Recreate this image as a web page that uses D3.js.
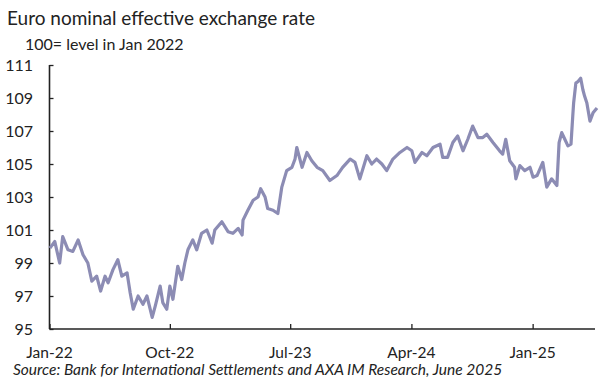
<!DOCTYPE html>
<html>
<head>
<meta charset="utf-8">
<script src="https://cdn.jsdelivr.net/npm/d3@7"></script>
<style>
  body { margin: 0; background: #fff; }
  svg { display: block; font-family: Lato, "Open Sans", sans-serif; }
</style>
</head>
<body>
<svg width="615" height="379"></svg>
<script>
var width = 615, height = 379;
var margin = {left: 49.5, right: 18, top: 65, bottom: 50};

// dates of the series
var dates = [
  '2022-01-02','2022-01-13','2022-01-24','2022-01-31','2022-02-12','2022-02-23','2022-03-07','2022-03-18','2022-03-29',
  '2022-04-07','2022-04-18','2022-04-27','2022-05-07','2022-05-14','2022-05-25','2022-06-05','2022-06-14','2022-06-26',
  '2022-07-03','2022-07-10','2022-07-21','2022-08-01','2022-08-10','2022-08-22','2022-08-29','2022-09-09','2022-09-15',
  '2022-09-24','2022-10-01','2022-10-08','2022-10-19','2022-10-28','2022-11-04','2022-11-11','2022-11-22','2022-12-01',
  '2022-12-12','2022-12-24','2023-01-05','2023-01-11','2023-01-27','2023-02-10','2023-02-21','2023-03-05','2023-03-14',
  '2023-03-16','2023-03-27','2023-04-08','2023-04-19','2023-04-25','2023-05-05','2023-05-11','2023-05-23','2023-06-03',
  '2023-06-12','2023-06-23','2023-07-05','2023-07-12','2023-07-16','2023-07-28','2023-08-08','2023-08-19','2023-08-31',
  '2023-09-13','2023-09-29','2023-10-15','2023-10-28','2023-11-14','2023-11-25','2023-12-06','2023-12-22','2024-01-02',
  '2024-01-13','2024-01-25','2024-02-05','2024-02-19','2024-03-06','2024-03-22','2024-04-02','2024-04-09','2024-04-25',
  '2024-05-06','2024-05-20','2024-06-05','2024-06-11','2024-06-22','2024-07-04','2024-07-15','2024-07-27','2024-08-07',
  '2024-08-18','2024-08-30','2024-09-10','2024-09-19','2024-10-03','2024-10-18','2024-10-25','2024-11-01','2024-11-10',
  '2024-11-21','2024-11-24','2024-12-03','2024-12-14','2024-12-26','2025-01-02','2025-01-11','2025-01-24','2025-02-02',
  '2025-02-13','2025-02-25','2025-03-02','2025-03-08','2025-03-15','2025-03-22','2025-03-29','2025-04-02','2025-04-04',
  '2025-04-09','2025-04-14','2025-04-20','2025-04-25','2025-04-29','2025-05-04','2025-05-11','2025-05-18','2025-05-27'
];

// euro NEER, 100 = Jan 2022
var neer = [
  99.9,100.3,99.0,100.6,99.8,99.7,100.4,99.5,99.0,
  97.9,98.2,97.3,98.2,97.8,98.6,99.2,98.2,98.4,
  97.2,96.2,97.0,96.5,97.0,95.7,96.4,97.6,96.6,
  96.2,97.6,96.8,98.8,98.0,99.0,99.8,100.4,99.8,
  100.8,101.0,100.2,101.0,101.5,100.9,100.8,101.1,100.7,
  101.6,102.2,102.8,103.0,103.5,103.0,102.3,102.2,102.0,
  103.6,104.6,104.8,105.3,106.0,104.8,105.7,105.2,104.8,
  104.6,104.0,104.3,104.8,105.3,105.1,104.1,105.5,105.0,
  105.3,105.0,104.6,105.3,105.7,106.0,105.8,105.1,105.7,
  105.5,106.0,106.2,105.4,105.4,106.3,106.7,105.8,106.5,
  107.3,106.6,106.6,106.8,106.3,105.8,105.6,106.5,105.2,
  104.8,104.1,104.9,104.6,104.8,104.2,104.3,105.1,103.6,
  104.1,103.7,106.3,106.9,106.5,106.1,106.2,107.9,108.7,
  109.9,110.0,110.2,109.5,109.1,108.7,107.6,108.1,108.4
];

var yTicks = [95, 97, 99, 101, 103, 105, 107, 109, 111];
var xTickDates = ['2022-01-01', '2022-10-01', '2023-07-01', '2024-04-01', '2025-01-01'];
var xTickLabels = ['Jan-22', 'Oct-22', 'Jul-23', 'Apr-24', 'Jan-25'];

var parse = d3.timeParse('%Y-%m-%d');
var data = dates.map(function(d, i) { return {date: parse(d), value: neer[i]}; });

var svg = d3.select('svg');

var x = d3.scaleTime()
    .domain([parse('2022-01-01'), parse('2025-05-27')])
    .range([margin.left, width - margin.right]);
var y = d3.scaleLinear()
    .domain([95, 111])
    .range([height - margin.bottom, margin.top]);

// title + subtitle
svg.append('text')
    .attr('x', 7).attr('y', 25)
    .attr('font-size', 19).attr('fill', '#222')
    .text('Euro nominal  effective exchange rate');
svg.append('text')
    .attr('x', 25).attr('y', 50)
    .attr('font-size', 16).attr('fill', '#222')
    .text('100= level in Jan 2022');

// y axis, ticks inside
var yAxis = svg.append('g')
    .attr('transform', 'translate(' + margin.left + ',0)')
    .call(d3.axisRight(y).tickValues(yTicks).tickSize(4).tickFormat(''));
yAxis.select('.domain').remove();
yAxis.append('line')
    .attr('x1', 0).attr('x2', 0)
    .attr('y1', y(111)).attr('y2', y(95))
    .attr('stroke', '#222').attr('stroke-width', 1.6);
yAxis.selectAll('.tick line').attr('stroke', '#222').attr('stroke-width', 1.3);

svg.selectAll('text.ylab')
    .data(yTicks).enter().append('text')
    .attr('class', 'ylab')
    .attr('x', 33)
    .attr('y', function(d) { return y(d) + 5.5; })
    .attr('text-anchor', 'end')
    .attr('font-size', 16).attr('fill', '#222')
    .text(function(d) { return d; });

// x axis, ticks point up
var xAxis = svg.append('g')
    .attr('transform', 'translate(0,' + y(95) + ')')
    .call(d3.axisTop(x).tickValues(xTickDates.map(parse)).tickSize(5).tickFormat(''));
xAxis.select('.domain').remove();
xAxis.append('line')
    .attr('x1', margin.left).attr('x2', 595)
    .attr('stroke', '#222').attr('stroke-width', 1.6);
xAxis.selectAll('.tick line').attr('stroke', '#222').attr('stroke-width', 1.3);

svg.selectAll('text.xlab')
    .data(xTickDates).enter().append('text')
    .attr('class', 'xlab')
    .attr('x', function(d) { return x(parse(d)); })
    .attr('y', 358)
    .attr('text-anchor', 'middle')
    .attr('font-size', 15.5).attr('fill', '#222')
    .text(function(d, i) { return xTickLabels[i]; });

// the series
var line = d3.line()
    .x(function(d) { return x(d.date); })
    .y(function(d) { return y(d.value); });

svg.append('path')
    .datum(data)
    .attr('fill', 'none')
    .attr('stroke', '#8c8cb4')
    .attr('stroke-width', 3.2)
    .attr('stroke-linejoin', 'round')
    .attr('d', line);

// source
svg.append('text')
    .attr('x', 13).attr('y', 375)
    .attr('font-size', 15.5).attr('font-style', 'italic').attr('fill', '#222')
    .text('Source: Bank for International Settlements and AXA IM Research, June 2025');
</script>
</body>
</html>
